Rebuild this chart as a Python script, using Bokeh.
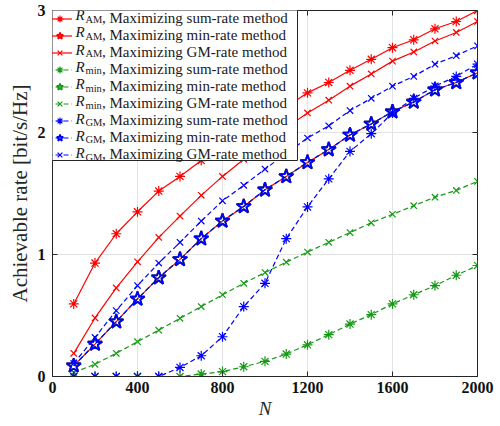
from bokeh.plotting import figure
from bokeh.models import (Legend, LegendItem, Label, LinearAxis, FixedTicker, Range1d,
                          BoxAnnotation)
from bokeh.embed import file_html
from bokeh.resources import INLINE

# ---------------- data ----------------
N = [100, 200, 300, 400, 500, 600, 700, 800, 900, 1000,
     1100, 1200, 1300, 1400, 1500, 1600, 1700, 1800, 1900, 2000]

am_sum = [0.595, 0.93, 1.17, 1.35, 1.52, 1.64, 1.77, 1.89, 2.0, 2.10,
          2.21, 2.325, 2.41, 2.51, 2.60, 2.695, 2.76, 2.85, 2.91, 3.0]
am_min = [0.088, 0.266, 0.45, 0.636, 0.81, 0.96, 1.13, 1.275, 1.394, 1.53,
          1.64, 1.755, 1.86, 1.98, 2.07, 2.17, 2.25, 2.35, 2.41, 2.49]
am_gm = [0.19, 0.48, 0.726, 0.94, 1.14, 1.315, 1.485, 1.64, 1.78, 1.91,
         2.04, 2.16, 2.265, 2.38, 2.48, 2.585, 2.66, 2.75, 2.82, 2.91]

min_sum = [0.0, 0.0, 0.0, 0.0, 0.0, 0.0, 0.02, 0.04, 0.08, 0.124,
           0.184, 0.26, 0.343, 0.43, 0.507, 0.595, 0.67, 0.745, 0.83, 0.91]
min_min = [0.088, 0.266, 0.45, 0.636, 0.81, 0.96, 1.13, 1.275, 1.394, 1.53,
           1.64, 1.755, 1.86, 1.98, 2.07, 2.17, 2.25, 2.35, 2.41, 2.49]
min_gm = [0.033, 0.10, 0.19, 0.285, 0.38, 0.477, 0.573, 0.67, 0.764, 0.852,
          0.937, 1.02, 1.10, 1.18, 1.26, 1.33, 1.40, 1.47, 1.525, 1.60]

gm_sum = [0.0, 0.0, 0.0, 0.0, 0.0, 0.074, 0.17, 0.326, 0.573, 0.764,
          1.13, 1.39, 1.62, 1.845, 1.99, 2.16, 2.28, 2.38, 2.46, 2.56]
gm_min = [0.088, 0.266, 0.45, 0.636, 0.81, 0.96, 1.13, 1.275, 1.394, 1.53,
          1.64, 1.755, 1.86, 1.98, 2.07, 2.17, 2.25, 2.35, 2.41, 2.49]
gm_gm = [0.107, 0.32, 0.54, 0.745, 0.93, 1.10, 1.274, 1.44, 1.567, 1.70,
         1.83, 1.955, 2.055, 2.18, 2.28, 2.38, 2.46, 2.56, 2.63, 2.71]

x_ticks = [0, 400, 800, 1200, 1600, 2000]
y_ticks = [0, 1, 2, 3]

metrics = ["AM", "min", "GM"]
methods = ["Maximizing sum-rate method", "Maximizing min-rate method",
           "Maximizing GM-rate method"]

# ---------------- styles ----------------
RED, GREEN, BLUE = "#ff0000", "#159a15", "#0000ff"
INK = "#262626"
SERIF = "Liberation Serif"

series = [
    (am_sum, RED, "solid", "asterisk", 0, 0),
    (am_min, RED, "solid", "star", 0, 1),
    (am_gm, RED, "solid", "x", 0, 2),
    (min_sum, GREEN, "5 3", "asterisk", 1, 0),
    (min_min, GREEN, "5 3", "star", 1, 1),
    (min_gm, GREEN, "5 3", "x", 1, 2),
    (gm_sum, BLUE, "5 3", "asterisk", 2, 0),
    (gm_min, BLUE, "5 3", "star", 2, 1),
    (gm_gm, BLUE, "5 3", "x", 2, 2),
]
marker_size = {"asterisk": 10, "star": 15, "x": 9}
marker_width = {"asterisk": 1.2, "star": 1.8, "x": 1.2}

FL, FR, FT, FB = 52, 23, 10, 50   # frame borders
W, H = 500, 426
FBOT = H - FB                     # frame bottom in canvas pixels

p = figure(width=W, height=H, x_range=Range1d(0, 2000), y_range=Range1d(0, 3),
           output_backend="svg", toolbar_location=None,
           min_border_left=FL, min_border_right=FR,
           min_border_top=FT, min_border_bottom=FB)

items = []
for vals, col, dash, mk, mi, me in series:
    rl = p.line(N, vals, line_color=col, line_width=1.2, line_dash=dash)
    rm = p.scatter(N, vals, marker=mk, size=marker_size[mk], line_color=col,
                   fill_color=None, line_width=marker_width[mk])
    items.append(LegendItem(label=", " + methods[me], renderers=[rl, rm]))

# axes
for ax in (p.xaxis[0], p.yaxis[0]):
    ax.major_label_text_font = SERIF
    ax.major_label_text_font_style = "bold"
    ax.major_label_text_font_size = "16px"
    ax.major_label_text_color = "#111111"
    ax.axis_line_color = INK
    ax.major_tick_line_color = INK
    ax.major_tick_in = 5
    ax.major_tick_out = 0
    ax.minor_tick_line_color = None
    ax.axis_label_text_font = SERIF
    ax.axis_label_text_color = "#262626"
p.xaxis.ticker = FixedTicker(ticks=x_ticks)
p.yaxis.ticker = FixedTicker(ticks=y_ticks)
p.xaxis.axis_label = "N"
p.xaxis.axis_label_text_font_style = "italic"
p.xaxis.axis_label_text_font_size = "19px"
p.xaxis.axis_label_standoff = 2
p.xaxis.major_label_standoff = 5
p.yaxis.axis_label = "Achievable rate [bit/s/Hz]"
p.yaxis.axis_label_text_font_style = "normal"
p.yaxis.axis_label_text_font_size = "21px"
p.yaxis.axis_label_standoff = 3
p.yaxis.major_label_standoff = 7

for loc, tk in (("right", y_ticks), ("above", x_ticks)):
    a = LinearAxis(ticker=FixedTicker(ticks=tk), major_label_text_font_size="1px",
                   major_label_text_color=None,
                   major_label_standoff=0, axis_line_color=None,
                   major_tick_line_color=INK, major_tick_in=5, major_tick_out=0,
                   minor_tick_line_color=None)
    p.add_layout(a, loc)

p.grid.grid_line_color = "#e3e3e3"
p.grid.grid_line_width = 1
p.outline_line_color = INK
p.outline_line_width = 1
p.outline_line_alpha = 1

# ---------------- legend ----------------
BOX_L, BOX_T, BOX_R, BOX_B = 47, 4, 297, 160   # legend box, canvas pixels
PAD, ROW = 2, 17.25
row0 = BOX_T + PAD + ROW / 2                   # centre of the first row

# white box with border drawn first, underneath the (transparent) legend
p.add_layout(BoxAnnotation(left=BOX_L - FL, right=BOX_R - FL,
                           top=FBOT - BOX_T, bottom=FBOT - BOX_B,
                           left_units="screen", right_units="screen",
                           top_units="screen", bottom_units="screen",
                           fill_color="white", fill_alpha=1,
                           line_color=INK, line_width=1, line_alpha=1))

# italic R with subscripts in the legend rows
for i, (vals, col, dash, mk, mi, me) in enumerate(series):
    cy = row0 + ROW * i
    p.add_layout(Label(x=75 - FL, y=FBOT - cy, x_units="screen", y_units="screen",
                       text="R", text_font=SERIF, text_font_style="italic",
                       text_font_size="15px", text_color="#1a1a1a",
                       text_baseline="middle", text_align="left"))
    p.add_layout(Label(x=85 - FL, y=FBOT - cy - 4, x_units="screen", y_units="screen",
                       text=metrics[mi], text_font=SERIF,
                       text_font_size="10.5px", text_color="#1a1a1a",
                       text_baseline="middle", text_align="left"))

leg_h = 2 * PAD + 9 * ROW
legend = Legend(items=items,
                location=(BOX_L - FL, FBOT - BOX_T - leg_h),
                padding=PAD, spacing=0, margin=0,
                label_height=17, glyph_height=17, glyph_width=25,
                label_standoff=30,
                label_text_font=SERIF, label_text_font_size="15px",
                label_text_color="#1a1a1a",
                border_line_color=None,
                background_fill_alpha=0)
p.add_layout(legend)

open("out.html", "w").write(file_html(p, INLINE))
